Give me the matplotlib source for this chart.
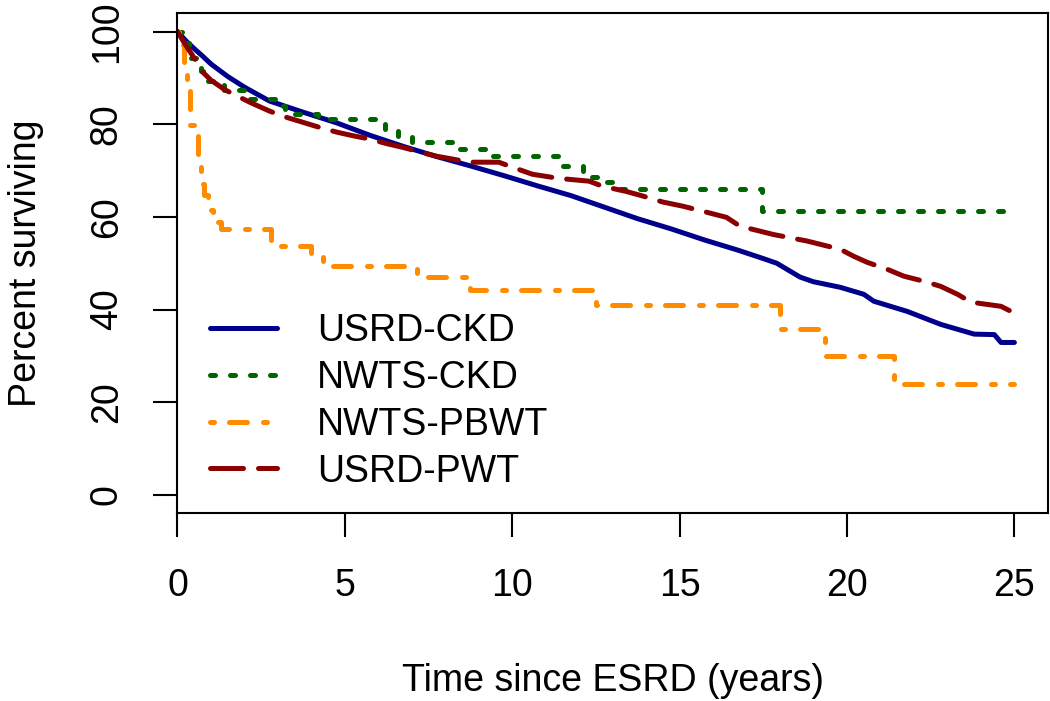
import numpy as np
import matplotlib
matplotlib.use("Agg")
import matplotlib.pyplot as plt

##################
# DATA ###########
##################

# USRD-CKD (solid navy)
usrd_ckd_t = [0, 0.25, 0.5, 0.75, 1.0, 1.5, 2.0, 2.75, 3.75, 4.75, 5.75, 6.75, 7.75, 8.75,
              9.75, 10.75, 11.75, 12.75, 13.75, 14.75, 15.75, 16.75, 17.5, 17.9, 18.6, 19.0,
              19.8, 20.5, 20.8, 21.8, 22.8, 23.8, 24.4, 24.6, 25]
usrd_ckd_s = [100, 98.0, 96.3, 94.7, 93.0, 90.3, 88.0, 85.0, 82.6, 80.3, 77.6, 75.2, 73.0, 71.0,
              68.9, 66.7, 64.6, 62.1, 59.6, 57.4, 55.0, 52.8, 51.0, 50.0, 47.0, 46.0,
              44.8, 43.3, 41.8, 39.6, 36.8, 34.7, 34.6, 32.9, 32.9]

# NWTS-CKD (dotted green, step)
nwts_ckd_t = [0, 0.15, 0.35, 0.7, 0.85, 1.4, 2.0, 2.9, 3.2, 4.2, 6.2, 6.6, 7.0, 8.45, 9.4,
              11.45, 12.1, 12.7, 13.2, 17.45, 25]
nwts_ckd_s = [100, 97.5, 94.2, 91.5, 89.3, 87.3, 85.4, 83.9, 82.2, 81.2, 78.5, 77.4, 76.1, 74.6, 73.1,
              70.9, 68.5, 67.5, 66.0, 61.2, 61.2]

# NWTS-PBWT (dot-dash orange, step)
nwts_pbwt_t = [0, 0.05, 0.2, 0.3, 0.38, 0.6, 0.7, 0.8, 0.9, 1.05, 1.3, 2.8, 4.0, 4.35, 7.15,
               8.75, 12.5, 18.0, 19.35, 21.4, 25]
nwts_pbwt_s = [100, 97.0, 93.5, 88.0, 79.8, 72.0, 67.0, 64.8, 61.4, 59.0, 57.4, 53.7, 51.5, 49.4, 47.0,
               44.2, 41.0, 35.8, 29.9, 23.9, 23.9]

# USRD-PWT (dashed dark red)
usrd_pwt_t = [0, 0.25, 0.5, 0.76, 1.0, 1.4, 1.78, 2.2, 2.76, 3.25, 3.75, 4.25, 4.75, 5.25, 5.74,
              6.25, 6.73, 7.25, 7.73, 8.2, 8.72, 9.6, 9.9, 10.6, 11.4, 12.3, 12.7, 13.4, 13.9,
              14.5, 15.1, 15.7, 16.4, 16.8, 17.8, 18.8, 19.8, 20.2, 20.6, 21.2, 21.7, 22.3, 22.8,
              23.3, 23.7, 24.6, 24.9, 25]
usrd_pwt_s = [100, 97.0, 94.3, 91.2, 89.5, 87.5, 86.1, 84.6, 82.8, 81.5, 80.4, 79.3, 78.3, 77.5, 76.8,
              75.8, 75.0, 74.0, 73.1, 72.5, 71.8, 71.8, 71.0, 69.2, 68.3, 67.7, 66.6, 65.5, 64.5,
              63.2, 62.3, 61.2, 59.9, 58.0, 56.2, 54.8, 53.0, 51.5, 50.2, 48.7, 47.2, 46.1, 45.0,
              43.3, 41.6, 40.7, 39.6, 39.6]

x_ticks = [0, 5, 10, 15, 20, 25]
y_ticks = [0, 20, 40, 60, 80, 100]

##################

plt.rcParams['font.family'] = ['Liberation Sans', 'DejaVu Sans']
FS = 27
LW = 3.6

fig = plt.figure(figsize=(10.5, 7.01), dpi=100)
ax = fig.add_axes([0.169, 0.2675, 0.829, 0.714])

ax.plot(usrd_ckd_t, usrd_ckd_s, color='#00008B', lw=LW, solid_capstyle='round',
        label='USRD-CKD')
ax.step(nwts_ckd_t, nwts_ckd_s, where='post', color='#006400', lw=LW,
        ls=(0, (1, 3)), dash_capstyle='round', label='NWTS-CKD')
ax.step(nwts_pbwt_t, nwts_pbwt_s, where='post', color='#FF8C00', lw=LW,
        ls=(0, (0.8, 3, 3.6, 3.2)), dash_capstyle='round', label='NWTS-PBWT')
ax.plot(usrd_pwt_t, usrd_pwt_s, color='#8B0000', lw=LW,
        ls=(0, (6.6, 3)), dash_capstyle='round', label='USRD-PWT')

ax.set_xlim(0, 26)
ax.set_ylim(-4, 104)
ax.set_xticks(x_ticks)
ax.set_yticks(y_ticks)

for s in ax.spines.values():
    s.set_linewidth(1.5)
ax.tick_params(axis='both', length=17, width=1.5, labelsize=FS)
ax.tick_params(axis='x', pad=22)
ax.tick_params(axis='y', pad=21, labelrotation=90)
for lab in ax.get_yticklabels():
    lab.set_va('center')

ax.set_xlabel('Time since ESRD (years)', fontsize=FS, labelpad=43)
ax.set_ylabel('Percent surviving', fontsize=FS, labelpad=32)

ax.legend(loc='upper left', bbox_to_anchor=(0.0373, 0.4006), frameon=False,
          fontsize=FS, borderpad=0, borderaxespad=0, handlelength=1.8,
          handletextpad=1.06, labelspacing=0.29)

fig.savefig('out.png', dpi=100)
